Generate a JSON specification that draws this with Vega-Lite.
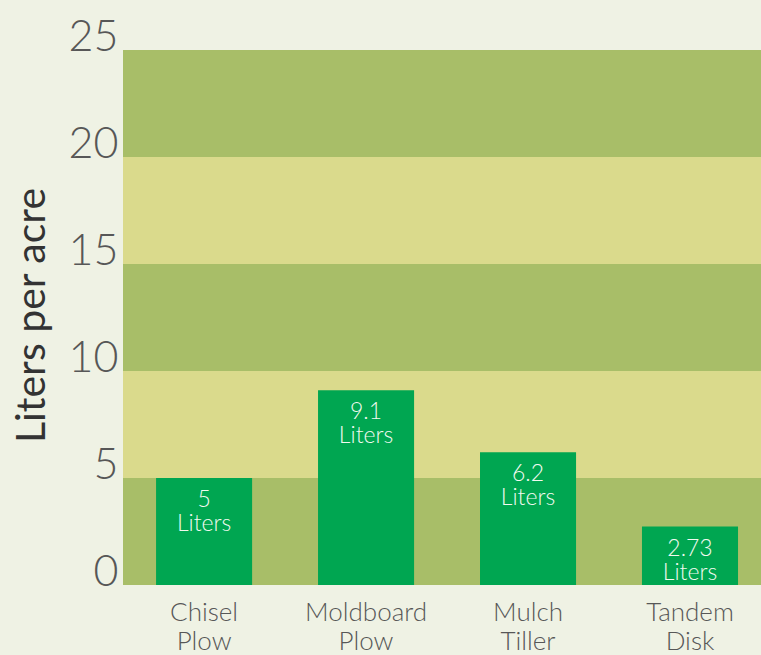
{
  "$schema": "https://vega.github.io/schema/vega-lite/v6.json",
  "width": 638,
  "height": 535,
  "autosize": "none",
  "padding": {"left": 123, "top": 50, "right": 0, "bottom": 70},
  "background": "#eff2e4",
  "config": {"view": {"stroke": null}, "font": "Lato"},
  "datasets": {
    "bands": [
      {"from": 0, "to": 5, "shade": "dark"},
      {"from": 5, "to": 10, "shade": "light"},
      {"from": 10, "to": 15, "shade": "dark"},
      {"from": 15, "to": 20, "shade": "light"},
      {"from": 20, "to": 25, "shade": "dark"}
    ],
    "fuel": [
      {"implement": "Chisel Plow", "liters": 5, "label": ["5", "Liters"]},
      {"implement": "Moldboard Plow", "liters": 9.1, "label": ["9.1", "Liters"]},
      {"implement": "Mulch Tiller", "liters": 6.2, "label": ["6.2", "Liters"]},
      {"implement": "Tandem Disk", "liters": 2.73, "label": ["2.73", "Liters"]}
    ]
  },
  "layer": [
    {
      "data": {"name": "bands"},
      "mark": {"type": "rect"},
      "encoding": {
        "y": {"field": "from", "type": "quantitative", "scale": {"domain": [0, 25], "nice": false, "zero": true},
          "axis": {
            "values": [0, 5, 10, 15, 20, 25],
            "grid": false, "domain": false, "ticks": false,
            "labelFont": "Lato", "labelFontSize": 43, "labelColor": "#575757",
            "labelBaseline": "alphabetic", "labelPadding": 5, "labelFontWeight": 300,
            "title": "Liters per acre", "titleFont": "Lato", "titleFontSize": 41, "titleFontWeight": 400,
            "titleColor": "#333333", "titleX": -91, "titleY": 265, "titleAlign": "center", "titleBaseline": "middle", "titleAngle": -90
          }
        },
        "y2": {"field": "to"},
        "color": {"field": "shade", "type": "nominal", "scale": {"domain": ["dark", "light"], "range": ["#a8be68", "#dada8c"]}, "legend": null}
      }
    },
    {
      "data": {"name": "fuel"},
      "layer": [
        {
          "mark": {"type": "bar", "color": "#00a651"},
          "encoding": {
            "x": {"field": "implement", "type": "nominal", "sort": null,
              "scale": {"paddingInner": 0.407, "paddingOuter": 0.173, "align": 0.59},
              "axis": {"labelAngle": 0, "domain": false, "ticks": false, "title": null,
                "labelExpr": "split(datum.label, ' ')", "labelFont": "Lato", "labelFontSize": 26, "labelFontWeight": 300,
                "labelColor": "#575757", "labelLineHeight": 29, "labelPadding": 14, "labelBaseline": "top"}
            },
            "y": {"field": "liters", "type": "quantitative"}
          }
        },
        {
          "mark": {"type": "text", "color": "#f2faf0", "font": "Lato", "fontSize": 23, "fontWeight": 300, "baseline": "alphabetic", "dy": 29, "lineHeight": 24},
          "encoding": {
            "x": {"field": "implement", "type": "nominal", "sort": null},
            "y": {"field": "liters", "type": "quantitative"},
            "text": {"field": "label"}
          }
        }
      ]
    }
  ]
}
